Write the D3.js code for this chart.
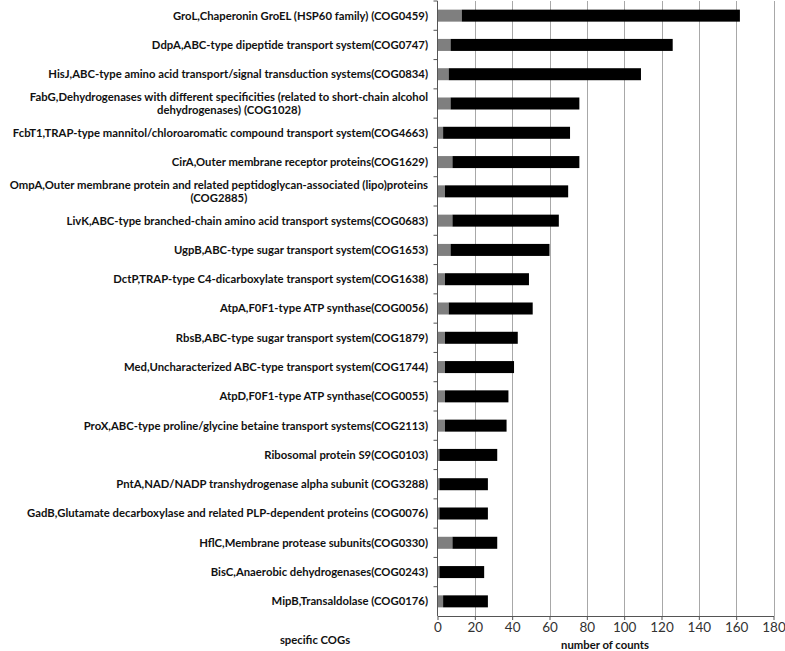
<!DOCTYPE html>
<html>
<head>
<meta charset="utf-8">
<script src="https://cdn.jsdelivr.net/npm/d3@7"></script>
<style>
  body { margin: 0; background: #fff; }
  svg { display: block; }
  .lbl { font-family: Lato, "Open Sans", sans-serif; font-weight: bold; font-size: 11.3px; fill: #111; }
  .tick text { font-family: Lato, "Open Sans", sans-serif; font-size: 13.5px; fill: #333; }
</style>
</head>
<body>
<svg id="chart" width="785" height="651"></svg>
<script>
var categories = [
  'GroL,Chaperonin GroEL (HSP60 family) (COG0459)',
  'DdpA,ABC-type dipeptide transport system(COG0747)',
  'HisJ,ABC-type amino acid transport/signal transduction systems(COG0834)',
  'FabG,Dehydrogenases with different specificities (related to short-chain alcohol\ndehydrogenases) (COG1028)',
  'FcbT1,TRAP-type mannitol/chloroaromatic compound transport system(COG4663)',
  'CirA,Outer membrane receptor proteins(COG1629)',
  'OmpA,Outer membrane protein and related peptidoglycan-associated (lipo)proteins\n(COG2885)',
  'LivK,ABC-type branched-chain amino acid transport systems(COG0683)',
  'UgpB,ABC-type sugar transport system(COG1653)',
  'DctP,TRAP-type C4-dicarboxylate transport system(COG1638)',
  'AtpA,F0F1-type ATP synthase(COG0056)',
  'RbsB,ABC-type sugar transport system(COG1879)',
  'Med,Uncharacterized ABC-type transport system(COG1744)',
  'AtpD,F0F1-type ATP synthase(COG0055)',
  'ProX,ABC-type proline/glycine betaine transport systems(COG2113)',
  'Ribosomal protein S9(COG0103)',
  'PntA,NAD/NADP transhydrogenase alpha subunit (COG3288)',
  'GadB,Glutamate decarboxylase and related PLP-dependent proteins (COG0076)',
  'HflC,Membrane protease subunits(COG0330)',
  'BisC,Anaerobic dehydrogenases(COG0243)',
  'MipB,Transaldolase (COG0176)'
];
var graySeries  = [13, 7, 6, 7, 3, 8, 4, 8, 7, 4, 6, 4, 4, 4, 4, 1, 1, 1, 8, 1, 3];
var blackSeries = [149, 119, 103, 69, 68, 68, 66, 57, 53, 45, 45, 39, 37, 34, 33, 31, 26, 26, 24, 24, 24];
var xTicks = [0, 20, 40, 60, 80, 100, 120, 140, 160, 180];

var svg = d3.select('#chart');
var plot = {l: 437.5, r: 773.5, t: 1, b: 616};

var xScale = d3.scaleLinear().domain([0, 180]).range([plot.l, plot.r]);
var yScale = d3.scaleBand().domain(d3.range(categories.length)).range([plot.t, plot.b]).paddingInner(0.59).paddingOuter(0.295);
var yBand = d3.scaleBand().domain(d3.range(categories.length)).range([plot.t, plot.b]);

// gridlines
svg.append('g').selectAll('line')
  .data(xTicks.slice(1))
  .enter().append('line')
  .attr('x1', function(d) { return Math.round(xScale(d)) + 0.5; })
  .attr('x2', function(d) { return Math.round(xScale(d)) + 0.5; })
  .attr('y1', plot.t).attr('y2', plot.b)
  .attr('stroke', '#a8a8a8').attr('stroke-width', 1);

// bars
var bars = svg.append('g');
bars.selectAll('.gray').data(graySeries).enter().append('rect')
  .attr('class', 'gray')
  .attr('x', xScale(0))
  .attr('y', function(d, i) { return yScale(i); })
  .attr('width', function(d) { return xScale(d) - xScale(0); })
  .attr('height', yScale.bandwidth())
  .attr('fill', '#7f7f7f');
bars.selectAll('.black').data(blackSeries).enter().append('rect')
  .attr('class', 'black')
  .attr('x', function(d, i) { return xScale(graySeries[i]); })
  .attr('y', function(d, i) { return yScale(i); })
  .attr('width', function(d, i) { return xScale(graySeries[i] + d) - xScale(graySeries[i]); })
  .attr('height', yScale.bandwidth())
  .attr('fill', '#000');

// x axis
var xAxis = svg.append('g')
  .attr('transform', 'translate(0,' + plot.b + ')')
  .call(d3.axisBottom(xScale).tickValues(xTicks).tickSize(4).tickSizeOuter(0).tickPadding(2));
xAxis.selectAll('path, line').attr('stroke', '#555');

// y axis: ticks between categories
var yAxisG = svg.append('g');
yAxisG.append('line')
  .attr('x1', plot.l).attr('x2', plot.l).attr('y1', plot.t).attr('y2', plot.b)
  .attr('stroke', '#555');
yAxisG.selectAll('.yt').data(d3.range(categories.length))
  .enter().append('line')
  .attr('class', 'yt')
  .attr('x1', plot.l - 4).attr('x2', plot.l)
  .attr('y1', function(d) { return yBand(d); })
  .attr('y2', function(d) { return yBand(d); })
  .attr('stroke', '#555');

// category labels
var labelRight = 428;
categories.forEach(function(c, i) {
  var lines = c.split('\n');
  var cy = yBand(i) + yBand.bandwidth() / 2;
  var t = svg.append('text').attr('class', 'lbl');
  if (lines.length === 1) {
    t.attr('x', labelRight).attr('y', cy).attr('dy', '0.35em')
      .attr('text-anchor', 'end').text(c);
  } else {
    t.attr('text-anchor', 'middle');
    var first = t.append('tspan').text(lines[0]);
    var w = first.node().getComputedTextLength();
    var cx = labelRight - w / 2;
    first.attr('x', cx).attr('y', cy - 6.5).attr('dy', '0.35em');
    t.append('tspan').attr('x', cx).attr('y', cy + 6.5).attr('dy', '0.35em').text(lines[1]);
  }
});

svg.append('text').attr('class', 'lbl')
  .attr('x', 315).attr('y', 640).attr('dy', '0.35em')
  .attr('text-anchor', 'middle').text('specific COGs');
svg.append('text').attr('class', 'lbl')
  .attr('x', 605).attr('y', 645.5).attr('dy', '0.35em')
  .attr('text-anchor', 'middle').text('number of counts');
</script>
</body>
</html>
